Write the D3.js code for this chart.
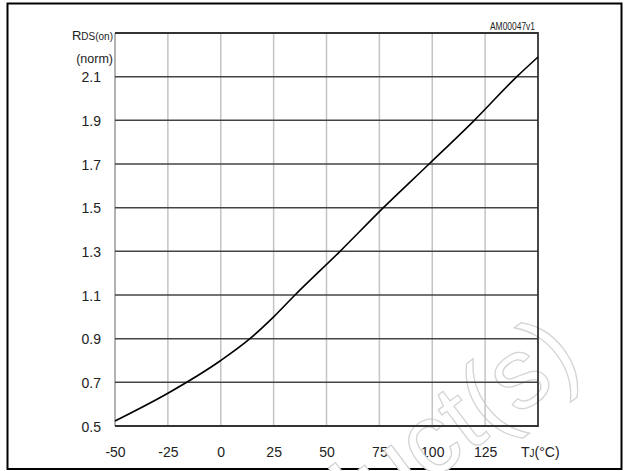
<!DOCTYPE html>
<html><head><meta charset="utf-8">
<script src="https://cdn.jsdelivr.net/npm/d3@7"></script>
<style>
html,body{margin:0;padding:0;background:#fff;}
svg{display:block;font-family:"Liberation Sans",Arial,Helvetica,sans-serif;}
</style></head>
<body>
<svg id="chart" width="626" height="471"></svg>
<script>
// Data
const tempC = [-50, -25, 0, 13.8, 25, 35.1, 56.4, 76.9, 98.5, 119.9, 140, 150];
const rdsNorm = [0.523, 0.65, 0.80, 0.90, 1.00, 1.10, 1.30, 1.50, 1.70, 1.90, 2.10, 2.19];
const xTicks = [-50, -25, 0, 25, 50, 75, 100, 125];
const yTicks = [0.5, 0.7, 0.9, 1.1, 1.3, 1.5, 1.7, 1.9, 2.1];
const xDomain = [-50, 150];
const yDomain = [0.5, 2.3];

const svg = d3.select("#chart");
const plot = {left: 115, right: 538, top: 33, bottom: 426};

const x = d3.scaleLinear().domain(xDomain).range([plot.left, plot.right]);
const y = d3.scaleLinear().domain(yDomain).range([plot.bottom, plot.top]);

// outer frame
svg.append("rect").attr("x", 7.5).attr("y", 3.5).attr("width", 614).attr("height", 465.5)
  .attr("fill", "#fff").attr("stroke", "#000").attr("stroke-width", 2);

const txt = "#222";
const ff = "'Liberation Sans',Arial,sans-serif";

// x tick labels
const xAxis = d3.axisBottom(x).tickValues(xTicks).tickSize(0).tickFormat(d => String(d));
const gx = svg.append("g").attr("transform", `translate(0,${plot.bottom})`).call(xAxis);
gx.select(".domain").remove();
gx.selectAll("text").attr("font-size", 14).attr("fill", txt).attr("dy", null).attr("y", 31)
  .attr("font-family", ff);

// y tick labels
const yAxis = d3.axisLeft(y).tickValues(yTicks).tickSize(0).tickFormat(d => d.toFixed(1));
const gy = svg.append("g").attr("transform", `translate(${plot.left},0)`).call(yAxis);
gy.select(".domain").remove();
gy.selectAll("text").attr("font-size", 14).attr("fill", txt).attr("x", -14).attr("dy", "0.36em")
  .attr("font-family", ff);

// axis titles
const yt = svg.append("text").attr("x", 113).attr("y", 40).attr("text-anchor", "end").attr("fill", txt);
yt.append("tspan").attr("font-size", 13).text("R");
yt.append("tspan").attr("font-size", 10).text("DS(on)");
svg.append("text").attr("x", 113).attr("y", 63).attr("text-anchor", "end").attr("fill", txt)
  .attr("font-size", 12.5).text("(norm)");

const xt = svg.append("text").attr("x", 521).attr("y", 457).attr("fill", txt);
xt.append("tspan").attr("font-size", 14).text("T");
xt.append("tspan").attr("font-size", 10).text("J");
xt.append("tspan").attr("font-size", 14).text("(°C)");

svg.append("text").attr("x", 535).attr("y", 30).attr("text-anchor", "end").attr("fill", txt)
  .attr("font-size", 11).attr("textLength", 45).attr("lengthAdjust", "spacingAndGlyphs").text("AM00047v1");

// watermark
svg.append("text").attr("transform", "translate(584,366) rotate(-37)")
  .attr("text-anchor", "end").attr("font-size", 100)
  .attr("fill", "#fff").attr("stroke", "#d4d4d4").attr("stroke-width", 1.3)
  .text("Obsolete Product(s)");

// grid
const vLines = xTicks.concat([150]).filter(v => v > xDomain[0] && v < xDomain[1]);
svg.append("g").selectAll("line").data(vLines).join("line")
  .attr("x1", d => x(d)).attr("x2", d => x(d)).attr("y1", plot.top).attr("y2", plot.bottom)
  .attr("stroke", "#c4c4c4").attr("stroke-width", 1.5);
svg.append("line").attr("x1", plot.left).attr("x2", plot.left).attr("y1", plot.top).attr("y2", plot.bottom)
  .attr("stroke", "#999").attr("stroke-width", 1.5);
const hLines = yTicks.filter(v => v > yDomain[0]);
svg.append("g").selectAll("line").data(hLines).join("line")
  .attr("x1", plot.left).attr("x2", plot.right).attr("y1", d => y(d)).attr("y2", d => y(d))
  .attr("stroke", "#444").attr("stroke-width", 1.5);
svg.append("path").attr("d", `M${plot.left},${y(yDomain[1])}H${plot.right}V${plot.bottom}H${plot.left}`)
  .attr("fill", "none").attr("stroke", "#333").attr("stroke-width", 1.8);

// curve
const line = d3.line().x((d, i) => x(tempC[i])).y(d => y(d)).curve(d3.curveMonotoneX);
svg.append("path").datum(rdsNorm).attr("d", line).attr("fill", "none")
  .attr("stroke", "#000").attr("stroke-width", 1.6);
</script>
</body></html>
